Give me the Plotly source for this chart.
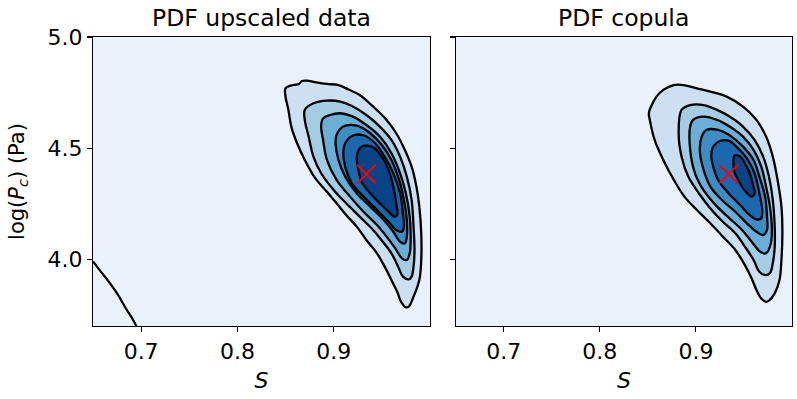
import plotly.graph_objects as go

# ---------------- data ----------------
x_ticks = [0.7, 0.8, 0.9]
y_ticks = [4.0, 4.5, 5.0]
x_range = [0.65, 1.0]
y_range = [3.70, 5.0]
titles = ["PDF upscaled data", "PDF copula"]
mode_point = [0.934, 4.383]   # red cross (S, log Pc)

# contour levels of the left panel (PDF upscaled data), outer -> inner
up_L1_x = [0.975, 0.970, 0.966, 0.960, 0.953, 0.945, 0.934, 0.924, 0.913, 0.903, 0.893, 0.881, 0.870, 0.862, 0.856, 0.853, 0.850, 0.850,
           0.858, 0.864, 0.867, 0.872, 0.882, 0.893, 0.905, 0.913, 0.927, 0.941, 0.955, 0.965, 0.974, 0.981, 0.986, 0.989, 0.991, 0.991, 0.989, 0.983, 0.978]
up_L1_y = [3.784, 3.809, 3.854, 3.907, 3.967, 4.027, 4.087, 4.147, 4.199, 4.252, 4.304, 4.364, 4.447, 4.522, 4.597, 4.672, 4.732, 4.769,
           4.784, 4.789, 4.802, 4.804, 4.796, 4.789, 4.784, 4.769, 4.739, 4.687, 4.627, 4.567, 4.492, 4.417, 4.327, 4.237, 4.117, 3.997, 3.907, 3.832, 3.787]
up_L2_x = [0.978, 0.972, 0.967, 0.960, 0.951, 0.941, 0.927, 0.913, 0.900, 0.887, 0.879, 0.874, 0.870, 0.870,
           0.879, 0.893, 0.907, 0.920, 0.934, 0.948, 0.960, 0.969, 0.976, 0.981, 0.983, 0.984, 0.983, 0.981]
up_L2_y = [3.910, 3.922, 3.967, 4.027, 4.079, 4.132, 4.192, 4.252, 4.312, 4.387, 4.462, 4.552, 4.627, 4.672,
           4.702, 4.714, 4.709, 4.687, 4.649, 4.597, 4.537, 4.462, 4.372, 4.267, 4.147, 4.042, 3.967, 3.922]
up_L3_x = [0.976, 0.971, 0.964, 0.955, 0.945, 0.931, 0.917, 0.903, 0.893, 0.889, 0.887, 0.889,
           0.896, 0.907, 0.920, 0.934, 0.948, 0.960, 0.969, 0.975, 0.979, 0.980, 0.979]
up_L3_y = [3.997, 4.004, 4.049, 4.102, 4.154, 4.214, 4.282, 4.357, 4.447, 4.537, 4.597, 4.634,
           4.649, 4.657, 4.642, 4.604, 4.552, 4.477, 4.387, 4.297, 4.192, 4.087, 4.027]
up_L4_x = [0.974, 0.969, 0.962, 0.952, 0.938, 0.924, 0.912, 0.905, 0.902, 0.903,
           0.910, 0.924, 0.938, 0.950, 0.960, 0.968, 0.973, 0.976, 0.976]
up_L4_y = [4.072, 4.079, 4.124, 4.177, 4.237, 4.297, 4.372, 4.447, 4.522, 4.559,
           4.597, 4.601, 4.567, 4.514, 4.447, 4.357, 4.267, 4.177, 4.102]
up_L5_x = [0.971, 0.965, 0.957, 0.945, 0.931, 0.919, 0.912, 0.910, 0.912,
           0.919, 0.931, 0.943, 0.953, 0.962, 0.969, 0.972, 0.973]
up_L5_y = [4.124, 4.132, 4.169, 4.222, 4.282, 4.342, 4.417, 4.477, 4.522,
           4.555, 4.558, 4.522, 4.462, 4.387, 4.297, 4.207, 4.147]
up_L6_x = [0.963, 0.957, 0.948, 0.938, 0.929, 0.925, 0.924,
           0.927, 0.932, 0.941, 0.950, 0.957, 0.962, 0.965, 0.966]
up_L6_y = [4.192, 4.214, 4.252, 4.297, 4.349, 4.417, 4.462,
           4.499, 4.511, 4.504, 4.462, 4.402, 4.327, 4.252, 4.199]
# lowest level also crosses the lower-left corner of the left panel
up_corner_x = [0.650, 0.659, 0.668, 0.676, 0.684, 0.690, 0.695]
up_corner_y = [3.990, 3.940, 3.890, 3.840, 3.780, 3.740, 3.700]

# contour levels of the right panel (PDF copula), outer -> inner
co_L1_x = [0.973, 0.968, 0.963, 0.958, 0.951, 0.941, 0.928, 0.915, 0.901, 0.888, 0.877, 0.866, 0.857, 0.852, 0.851,
           0.854, 0.859, 0.866, 0.877, 0.887, 0.901, 0.915, 0.932, 0.949, 0.963, 0.973, 0.980, 0.985, 0.989, 0.990, 0.989, 0.987, 0.982, 0.976]
co_L1_y = [3.809, 3.824, 3.862, 3.914, 3.974, 4.042, 4.102, 4.162, 4.222, 4.282, 4.357, 4.447, 4.537, 4.627, 4.657,
           4.694, 4.732, 4.762, 4.784, 4.784, 4.769, 4.754, 4.732, 4.687, 4.627, 4.552, 4.462, 4.357, 4.237, 4.117, 3.997, 3.907, 3.847, 3.814]
co_L2_x = [0.972, 0.966, 0.960, 0.951, 0.941, 0.928, 0.915, 0.903, 0.892, 0.885, 0.882,
           0.885, 0.894, 0.908, 0.922, 0.935, 0.949, 0.961, 0.970, 0.976, 0.980, 0.982, 0.982, 0.980, 0.977]
co_L2_y = [3.929, 3.944, 3.997, 4.057, 4.117, 4.169, 4.229, 4.297, 4.372, 4.462, 4.567,
           4.672, 4.694, 4.694, 4.672, 4.642, 4.597, 4.537, 4.462, 4.372, 4.267, 4.147, 4.057, 3.982, 3.937]
co_L3_x = [0.973, 0.967, 0.958, 0.948, 0.935, 0.922, 0.909, 0.899, 0.894, 0.894,
           0.897, 0.908, 0.922, 0.935, 0.949, 0.960, 0.968, 0.973, 0.977, 0.979, 0.978]
co_L3_y = [4.027, 4.034, 4.079, 4.132, 4.184, 4.237, 4.304, 4.387, 4.492, 4.597,
           4.627, 4.642, 4.627, 4.597, 4.552, 4.492, 4.417, 4.327, 4.237, 4.147, 4.072]
co_L4_x = [0.970, 0.963, 0.953, 0.941, 0.927, 0.915, 0.908, 0.904, 0.906,
           0.911, 0.923, 0.937, 0.949, 0.960, 0.966, 0.972, 0.974, 0.974]
co_L4_y = [4.109, 4.124, 4.162, 4.214, 4.267, 4.327, 4.402, 4.492, 4.552,
           4.582, 4.582, 4.552, 4.507, 4.447, 4.372, 4.282, 4.192, 4.132]
co_L5_x = [0.963, 0.956, 0.946, 0.934, 0.923, 0.918, 0.916, 0.918,
           0.925, 0.934, 0.942, 0.953, 0.961, 0.966, 0.969, 0.968]
co_L5_y = [4.180, 4.199, 4.244, 4.297, 4.357, 4.417, 4.462, 4.507,
           4.532, 4.534, 4.507, 4.454, 4.387, 4.297, 4.222, 4.184]
co_L6_x = [0.958, 0.954, 0.949, 0.944, 0.940, 0.939, 0.940, 0.946, 0.951, 0.956, 0.959, 0.961]
co_L6_y = [4.282, 4.294, 4.319, 4.357, 4.394, 4.439, 4.466, 4.462, 4.432, 4.387, 4.342, 4.297]

# ---------------- style ----------------
band_colors = ["#e9f2fa", "#cde0f1", "#a4cce3", "#6baed6", "#3d8dc4", "#1a68ae", "#084387"]
FONT = "DejaVu Sans"

panels = [
    [(up_L1_x, up_L1_y), (up_L2_x, up_L2_y), (up_L3_x, up_L3_y),
     (up_L4_x, up_L4_y), (up_L5_x, up_L5_y), (up_L6_x, up_L6_y)],
    [(co_L1_x, co_L1_y), (co_L2_x, co_L2_y), (co_L3_x, co_L3_y),
     (co_L4_x, co_L4_y), (co_L5_x, co_L5_y), (co_L6_x, co_L6_y)],
]

fig = go.Figure()

# lowest contour line crossing the lower-left corner of the left panel
fig.add_trace(go.Scatter(
    x=up_corner_x, y=up_corner_y, mode="lines",
    line=dict(color="black", width=2.2, shape="spline"),
    xaxis="x", yaxis="y", hoverinfo="skip", showlegend=False))

for p, levels in enumerate(panels):
    xa = "x" if p == 0 else "x2"
    ya = "y" if p == 0 else "y2"
    for k, (lx, ly) in enumerate(levels):
        fig.add_trace(go.Scatter(
            x=lx + [lx[0]], y=ly + [ly[0]], mode="lines",
            fill="toself", fillcolor=band_colors[k + 1],
            line=dict(color="black", width=2.3, shape="spline", smoothing=1.0),
            xaxis=xa, yaxis=ya, hoverinfo="skip", showlegend=False))
    fig.add_trace(go.Scatter(
        x=[mode_point[0]], y=[mode_point[1]], mode="markers",
        marker=dict(symbol="x-thin", size=19, line=dict(color="red", width=2)),
        xaxis=xa, yaxis=ya, hoverinfo="skip", showlegend=False))

axis_common = dict(
    range=x_range, tickvals=x_ticks, ticktext=[f"{v:.1f}" for v in x_ticks],
    showline=True, linecolor="black", linewidth=1.1, mirror=True,
    ticks="outside", ticklen=5, tickwidth=1.1, tickcolor="black",
    showgrid=False, zeroline=False, automargin=False,
    tickfont=dict(family=FONT, size=22, color="black"),
    title=dict(text="<i>S</i>", font=dict(family=FONT, size=22, color="black"), standoff=10),
)
yaxis_common = dict(
    range=y_range, tickvals=y_ticks, ticktext=[f"{v:.1f}" for v in y_ticks],
    showline=True, linecolor="black", linewidth=1.1, mirror=True,
    ticks="outside", ticklen=5, tickwidth=1.1, tickcolor="black",
    showgrid=False, zeroline=False, automargin=False,
    tickfont=dict(family=FONT, size=22, color="black"),
)

fig.update_layout(
    width=797, height=399,
    margin=dict(l=93, r=5, t=37, b=73, autoexpand=False),
    paper_bgcolor="white", plot_bgcolor=band_colors[0],
    xaxis=dict(domain=[0, 0.482], anchor="y", **axis_common),
    xaxis2=dict(domain=[0.519, 1], anchor="y2", **axis_common),
    yaxis=dict(domain=[0, 1], anchor="x", **yaxis_common,
               title=dict(text="log(<i>P</i><sub><i>c</i></sub>) (Pa)",
                          font=dict(family=FONT, size=21, color="black"), standoff=17)),
    yaxis2=dict(domain=[0, 1], anchor="x2", showticklabels=False, **{k: v for k, v in yaxis_common.items() if k != "tickfont"}),
    showlegend=False,
    hovermode=False,
)

for i, t in enumerate(titles):
    dom = [0, 0.482] if i == 0 else [0.519, 1]
    fig.add_annotation(text=t, x=(dom[0] + dom[1]) / 2, y=1, xref="paper", yref="paper",
                       xanchor="center", yanchor="bottom", yshift=3, showarrow=False,
                       font=dict(family=FONT, size=23.5, color="black"))

# remove the default page margin so the 797x399 figure fills the window exactly
fig.write_html("out.html", config={"displayModeBar": False, "staticPlot": True},
               post_script="document.body.style.margin='0';")
